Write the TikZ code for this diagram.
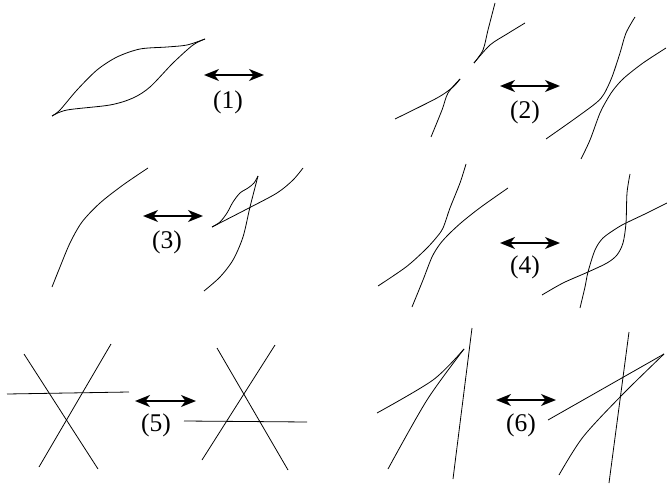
\documentclass[tikz,border=0pt]{standalone}
\usepackage{fontspec}
\setmainfont{Liberation Serif}
\usetikzlibrary{arrows.meta}
\begin{document}
\begin{tikzpicture}[x=1pt,y=-1pt,
  crv/.style={line width=0.8pt, line join=round},
  swap/.style={{Stealth[length=15pt,width=12pt,inset=4.5pt]}-{Stealth[length=15pt,width=12pt,inset=4.5pt]}, line width=1.8pt},
  lbl/.style={font=\fontsize{25.5}{30}\selectfont, inner sep=0pt}]
\useasboundingbox (0,0) rectangle (667,487);
% ---------- (1)
\draw[crv] plot[smooth] coordinates {(52,116) (60,110) (77,90) (97,70) (117,57) (140,49) (167,47) (187,45) (205,39)};
\draw[crv] plot[smooth] coordinates {(52,116) (67,110) (110,105) (133,98) (150,87) (173,63) (193,45) (205,39)};
\coordinate (a1l) at (204,75); \coordinate (a1r) at (264,75);
\draw[swap] (a1l) -- (a1r);
\node[lbl] (l1) at (228,102) {(1)};
% ---------- (2)
\draw[crv] plot[smooth] coordinates {(395,119) (437,98) (453,87) (460,79)};
\draw[crv] plot[smooth] coordinates {(460,79) (448,93) (442,110) (431,137)};
\draw[crv] plot[smooth] coordinates {(474,63) (483,50) (488,30) (495,3)};
\draw[crv] plot[smooth] coordinates {(474,63) (490,45) (507,34) (525,23)};
\draw[crv] plot[smooth] coordinates {(546,139) (573,120) (596,103) (604,94) (612,77) (620,53) (626,33) (635,17)};
\draw[crv] plot[smooth] coordinates {(581,159) (590,140) (600,113) (608,98) (614,89) (624,78) (643,63) (666,48)};
\coordinate (a2l) at (500,86); \coordinate (a2r) at (560,86);
\draw[swap] (a2l) -- (a2r);
\node[lbl] (l2) at (525,112) {(2)};
% ---------- (3)
\draw[crv] plot[smooth] coordinates {(52,287) (60,267) (70,243) (82,222) (100,203) (123,185) (148,168)};
\draw[crv] plot[smooth] coordinates {(212,227) (247,209) (277,193) (293,180) (303,168)};
\draw[crv] plot[smooth] coordinates {(212,227) (220,222) (227,213) (233,202) (240,193) (248,188) (254,183) (258,176)};
\draw[crv] plot[smooth] coordinates {(258,176) (250,207) (243,237) (233,260) (220,277) (204,291)};
\coordinate (a3l) at (143,216); \coordinate (a3r) at (203,216);
\draw[swap] (a3l) -- (a3r);
\node[lbl] (l3) at (167,242) {(3)};
% ---------- (4)
\draw[crv] plot[smooth] coordinates {(378,286) (406,267) (425,250) (436,238) (443,228) (450,208) (460,183) (466,164)};
\draw[crv] plot[smooth] coordinates {(412,307) (423,280) (432,257) (440,244) (449,234) (462,222) (481,207) (508,188)};
\draw[crv] plot[smooth] coordinates {(542,295) (563,283) (588,272) (607,263) (617,255) (623,243) (626,223) (627,193) (630,174)};
\draw[crv] plot[smooth] coordinates {(580,308) (585,287) (588,272) (595,250) (603,238) (617,228) (626,223) (647,213) (667,203)};
\coordinate (a4l) at (500,243); \coordinate (a4r) at (560,243);
\draw[swap] (a4l) -- (a4r);
\node[lbl] (l4) at (525,267) {(4)};
% ---------- (5)
\draw[crv] (24,354) -- (98,469);
\draw[crv] (111,344) -- (39,467);
\draw[crv] (7,394) -- (129,392);
\draw[crv] (217,348) -- (288,470);
\draw[crv] (275,345) -- (202,460);
\draw[crv] (184,421) -- (307,422);
\coordinate (a5l) at (135,401); \coordinate (a5r) at (196,401);
\draw[swap] (a5l) -- (a5r);
\node[lbl] (l5) at (156,425) {(5)};
% ---------- (6)
\draw[crv] (472,328) -- (453,479);
\draw[crv] plot[smooth] coordinates {(464,349) (433,380) (377,413)};
\draw[crv] plot[smooth] coordinates {(464,349) (427,400) (388,469)};
\draw[crv] (629,332) -- (609,483);
\draw[crv] (664,354) -- (548,420);
\draw[crv] plot[smooth] coordinates {(664,354) (622,395) (583,437) (559,475)};
\coordinate (a6l) at (496,400); \coordinate (a6r) at (556,400);
\draw[swap] (a6l) -- (a6r);
\node[lbl] (l6) at (521,425) {(6)};
\end{tikzpicture}
\end{document}
